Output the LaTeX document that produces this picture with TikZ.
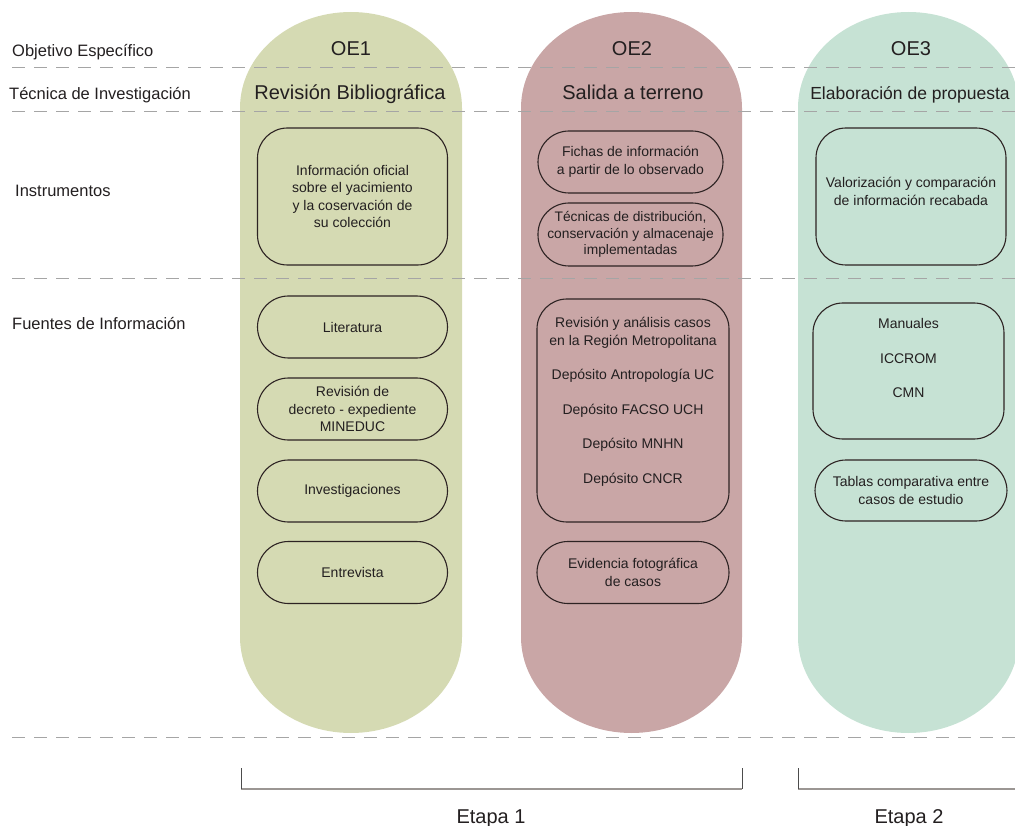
\documentclass[tikz,border=0pt]{standalone}
\usepackage{fontspec}
\setmainfont{Liberation Sans}
\definecolor{oeone}{RGB}{213,218,179}
\definecolor{oetwo}{RGB}{201,166,166}
\definecolor{oethree}{RGB}{198,226,212}
\definecolor{dashgray}{RGB}{165,165,165}
\definecolor{boxline}{RGB}{45,35,35}
\definecolor{inktext}{RGB}{35,31,32}
\definecolor{bracketgray}{RGB}{155,150,147}

\begin{document}
\begin{tikzpicture}[x=1pt,y=-1pt,
  rowlabel/.style={anchor=base west,inner sep=0pt,text=inktext,font=\fontsize{16.5}{20}\selectfont},
  oehead/.style={anchor=base,inner sep=0pt,text=inktext,font=\fontsize{20}{24}\selectfont},
  infobox/.style={draw=boxline,line width=1.1pt,rounded corners=30pt,minimum width=190pt,
        inner sep=0pt,align=center,text=inktext,font=\fontsize{14}{17.5}\selectfont},
  pillbox/.style={infobox,rounded corners=31pt,minimum height=62pt},
  rowline/.style={draw=dashgray,line width=1pt,dash pattern=on 13pt off 9pt},
  bracket/.style={draw=bracketgray,line width=1.8pt},
  brackettick/.style={draw=gray!60!black,line width=0.8pt},
  etapa/.style={anchor=base,inner sep=0pt,text=inktext,font=\fontsize{20}{24}\selectfont}]
\useasboundingbox (0,0) rectangle (1015,826);

\fill[oeone] (240,108) arc[start angle=180,end angle=360,x radius=111,y radius=96] -- (462,637)
    arc[start angle=0,end angle=180,x radius=111,y radius=96] -- cycle;
\fill[oetwo] (521,108) arc[start angle=180,end angle=360,x radius=110.5,y radius=96] -- (742,637)
    arc[start angle=0,end angle=180,x radius=110.5,y radius=96] -- cycle;
\fill[oethree] (798,108) arc[start angle=180,end angle=360,x radius=110.5,y radius=96] -- (1019,637)
    arc[start angle=0,end angle=180,x radius=110.5,y radius=96] -- cycle;

\foreach \yy in {68,112,279,737}
  \draw[rowline] (12,\yy) -- (1015,\yy);

\path
(12,56.5) node[rowlabel] (objlbl) {Objetivo Específico}
(9,100) node[rowlabel] (teclbl) {Técnica de Investigación}
(15,197) node[rowlabel] (inslbl) {Instrumentos}
(12,330) node[rowlabel] (fuelbl) {Fuentes de Información}

(351,56) node[oehead] (oe1) {OE1}
(632,56) node[oehead] (oe2) {OE2}
(911,56) node[oehead] (oe3) {OE3}
(350,100) node[oehead] (tec1) {Revisión Bibliográfica}
(633,100) node[oehead] (tec2) {Salida a terreno}
(910,100) node[oehead,font=\fontsize{17.5}{21}\selectfont] (tec3) {Elaboración de propuesta}

(352.5,196.5) node[infobox,minimum height=137pt] (infooficial)
   {Información oficial\\sobre el yacimiento\\y la coservación de\\su colección}
(352.5,327) node[pillbox] (literatura) {Literatura}
(352.5,409) node[pillbox] (decreto) {Revisión de\\decreto - expediente\\MINEDUC}
(352.5,491) node[pillbox] (investig) {Investigaciones}
(352.5,572.5) node[pillbox] (entrevista) {Entrevista}

(630.5,162) node[pillbox,minimum width=185pt] (fichas) {Fichas de información\\a partir de lo observado}
(630.5,234.5) node[pillbox,minimum width=185pt,minimum height=63pt,font=\fontsize{13.8}{16.5}\selectfont] (tecnicas)
   {Técnicas de distribución,\\conservación y almacenaje\\implementadas}
(633,410.5) node[infobox,minimum width=192pt,minimum height=223pt] (casos)
   {Revisión y análisis casos\\en la Región Metropolitana\\[17pt]Depósito Antropología UC\\[17pt]Depósito FACSO UCH\\[17pt]Depósito MNHN\\[17pt]Depósito CNCR\\[2.5pt]\mbox{}}
(633,572.5) node[pillbox,minimum width=192pt] (evidencia) {Evidencia fotográfica\\de casos}

(911,196.5) node[infobox,minimum height=137pt] (valoriza)
   {Valorización y comparación\\de información recabada\\[-7.5pt]\mbox{}}
(908.5,371) node[infobox,minimum width=191pt,minimum height=136pt] (manuales)
   {Manuales\\[17pt]ICCROM\\[17pt]CMN\\[8.5pt]\mbox{}}
(911,490.5) node[pillbox,minimum width=192pt,minimum height=61pt] (tablas) {Tablas comparativa entre\\casos de estudio}

(491,823) node[etapa] (etapa1) {Etapa 1}
(909,823) node[etapa] (etapa2) {Etapa 2}
;

\draw[bracket] (241,789) -- (742,789);
\draw[brackettick] (241,768) -- (241,789) (742,768) -- (742,789);
\draw[bracket] (798,789) -- (1016,789);
\draw[brackettick] (798,768) -- (798,789);
\end{tikzpicture}
\end{document}
